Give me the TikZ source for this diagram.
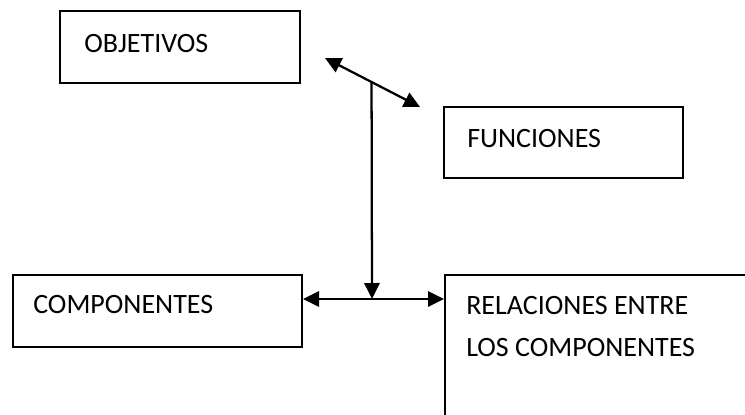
\documentclass[tikz,border=0pt]{standalone}
\usepackage{fontspec}
\setmainfont{Carlito}
\usetikzlibrary{arrows.meta,calc}
\tikzset{
  boxnode/.style={draw, line width=1.5pt, rectangle, inner sep=0pt},
  label/.style={anchor=base west, inner sep=0pt, font=\fontsize{21}{31.5}\selectfont},
  tip/.tip={Triangle[length=12pt,width=11.5pt]},
  conn/.style={line width=1.7pt, {tip}-{tip}},
  oneway/.style={line width=1.7pt, -{tip}}
}
\begin{document}
\begin{tikzpicture}[x=0.75pt,y=-0.75pt]
\useasboundingbox[fill=white] (0,0) rectangle (745,414);
% boxes
\node[boxnode, minimum width=180pt, minimum height=54pt] (obj) at (180,47) {};
\node[boxnode, minimum width=179pt, minimum height=53pt] (fun) at (563.5,142.5) {};
\node[boxnode, minimum width=216.75pt, minimum height=54pt] (comp) at (157.5,311) {};
\node[boxnode, minimum width=240pt, minimum height=120pt] (rel) at (605,355) {};
% labels
\node[label] (tobj) at (84,52) {OBJETIVOS};
\node[label] (tfun) at (467,147) {FUNCIONES};
\node[label] (tcomp) at (33,313) {COMPONENTES};
\node[label, align=left, anchor=north west] (trel) at (466,296) {RELACIONES ENTRE\\LOS COMPONENTES};
% connectors
\coordinate (da) at (325,58);
\coordinate (db) at (420,107);
\coordinate (dj) at ($(da)!0.49!(db)$);
\coordinate (hj) at (372,299);
\draw[conn] (da) -- (db);
\draw[oneway] (dj) -- (hj);
\draw[conn] (comp.east |- hj) -- (rel.west |- hj);
\end{tikzpicture}
\end{document}
